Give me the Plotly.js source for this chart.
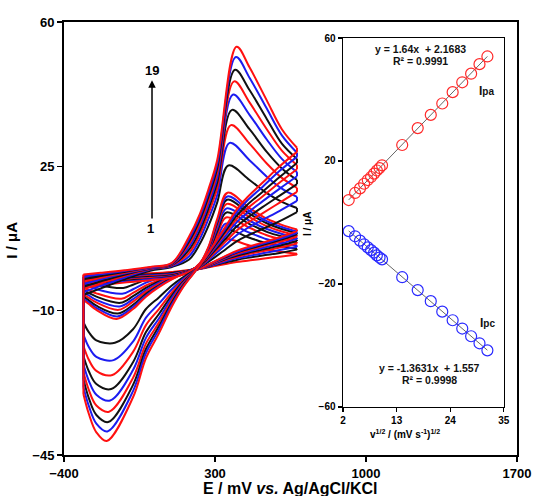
<!DOCTYPE html>
<html>
<head>
<meta charset="utf-8">
<script src="https://cdn.plot.ly/plotly-3.0.1.min.js"></script>
<style>html,body{margin:0;padding:0;background:#fff}</style>
</head>
<body>
<div id="chart" style="width:535px;height:496px"></div>
<script>
// Cyclic voltammograms at 19 scan rates (10–100 and 200–1000 mV/s)
const scanNumbers = [1,2,3,4,5,6,7,8,9,10,11,12,13,14,15,16,17,18,19];
const sqrtScanRate = [3.16,4.47,5.48,6.32,7.07,7.75,8.37,8.94,9.49,10.00,14.14,17.32,20.00,22.36,24.49,26.46,28.28,30.00,31.62];

// peak currents (uA) and peak potentials (mV)
const anodicPeakCurrent  = [7.3,9.6,11.1,12.6,13.8,14.8,15.9,16.9,17.7,18.6,25.2,30.7,35.0,38.7,42.4,45.6,48.4,51.5,54.0];
const cathodicPeakCurrent = [-2.8,-4.5,-5.9,-7.1,-8.1,-9.0,-9.8,-10.7,-11.4,-12.0,-17.8,-22.0,-25.6,-29.0,-31.8,-34.5,-37.0,-39.3,-41.6];
const anodicPeakPotential  = [345,347,349,351,353,354,355,356,357,358,362,368,374,379,384,389,393,397,400];
const cathodicPeakPotential = [-120,-125,-130,-134,-138,-142,-146,-150,-153,-156,-164,-170,-176,-181,-186,-191,-195,-199,-202];

// linear fits shown in the inset
const anodicFit = {slope: 1.64, intercept: 2.1683, r2: '0.9991'};
const cathodicFit = {slope: -1.3631, intercept: 1.557, r2: '0.9998'};

// potentials sampled along the forward (anodic) and reverse (cathodic) sweeps
const forwardPotentialBefore = [-310,-230,-120,0,100,180,230,270,310];
const forwardPotentialAfter = [460,540,610,680];
const reversePotentialBefore = [680,600,520,450,400,350,300,250,200,150,100,40,-20,-80];
const reversePotentialAfter = [-250,-285,-310];

const forwardCurrentBefore = [
  [-1.4,-1.3,-1.1,-0.9,-0.7,-0.2,0.8,2.5,5.0],
  [-1.8,-1.6,-1.4,-1.2,-0.9,-0.3,0.9,3.0,6.3],
  [-2.2,-2.0,-1.7,-1.4,-1.1,-0.3,1.0,3.5,7.3],
  [-2.6,-2.3,-2.0,-1.6,-1.3,-0.4,1.1,3.9,8.3],
  [-3.0,-2.6,-2.2,-1.8,-1.4,-0.4,1.2,4.3,9.2],
  [-3.3,-2.9,-2.4,-2.0,-1.6,-0.5,1.3,4.6,9.9],
  [-3.6,-3.2,-2.6,-2.1,-1.7,-0.5,1.3,4.9,10.6],
  [-3.9,-3.4,-2.8,-2.3,-1.8,-0.6,1.4,5.1,11.2],
  [-4.2,-3.7,-3.0,-2.4,-1.9,-0.6,1.4,5.3,11.7],
  [-4.5,-3.9,-3.2,-2.6,-2.0,-0.6,1.5,5.5,12.2],
  [-6.2,-4.6,-2.4,-0.3,0.6,2.4,6.2,10.6,16.2],
  [-5.5,-4.0,-2.0,0.0,0.8,3.2,7.4,12.3,18.0],
  [-4.8,-3.4,-1.6,0.1,1.0,4.0,8.5,13.6,19.6],
  [-4.2,-2.9,-1.3,0.2,1.1,4.8,9.5,14.8,21.0],
  [-3.6,-2.4,-1.0,0.3,1.2,5.5,10.4,15.8,22.2],
  [-3.0,-2.0,-0.8,0.4,1.3,6.2,11.2,16.8,23.4],
  [-2.4,-1.6,-0.6,0.5,1.4,6.8,12.0,17.7,24.5],
  [-1.8,-1.2,-0.4,0.5,1.5,7.4,12.8,18.6,25.5],
  [-1.2,-0.8,-0.2,0.6,1.6,8.0,13.5,19.5,26.5]
];
const forwardCurrentAfter = [
  [5.8,4.8,4.2,3.8],
  [7.7,6.3,5.6,5.0],
  [8.9,7.3,6.4,5.8],
  [10.1,8.3,7.3,6.6],
  [11.0,9.1,8.0,7.2],
  [11.8,9.8,8.6,7.7],
  [12.7,10.5,9.2,8.3],
  [13.5,11.2,9.8,8.8],
  [14.2,11.7,10.3,9.2],
  [14.9,12.3,10.8,9.7],
  [21.7,18.5,16.4,14.9],
  [26.5,22.5,19.6,17.6],
  [30.5,25.7,22.2,19.8],
  [34.0,28.5,24.5,21.7],
  [37.5,31.5,26.8,23.6],
  [40.5,34.0,28.8,25.3],
  [43.5,36.5,30.5,26.8],
  [46.5,39.0,32.5,28.3],
  [49.0,41.0,34.0,29.5]
];
const reverseCurrentBefore = [
  [3.6,3.1,2.6,2.1,1.8,1.3,0.8,0.3,-0.1,-0.3,-0.6,-1.0,-1.6,-2.4],
  [4.8,4.0,3.4,2.8,2.3,1.7,1.1,0.4,-0.1,-0.5,-0.9,-1.6,-2.5,-3.7],
  [5.5,4.7,3.9,3.2,2.7,2.0,1.2,0.4,-0.2,-0.6,-1.2,-2.1,-3.2,-4.8],
  [6.3,5.3,4.4,3.7,3.0,2.3,1.4,0.5,-0.2,-0.7,-1.4,-2.6,-3.9,-5.7],
  [6.9,5.8,4.8,4.0,3.3,2.5,1.5,0.6,-0.2,-0.8,-1.6,-2.9,-4.5,-6.5],
  [7.4,6.2,5.2,4.3,3.6,2.7,1.6,0.6,-0.3,-0.9,-1.8,-3.2,-5.0,-7.2],
  [8.0,6.7,5.6,4.6,3.8,2.9,1.7,0.6,-0.3,-1.0,-2.0,-3.5,-5.4,-7.8],
  [8.5,7.1,5.9,4.9,4.1,3.0,1.9,0.7,-0.3,-1.1,-2.1,-3.9,-5.9,-8.6],
  [8.9,7.4,6.2,5.1,4.2,3.2,1.9,0.7,-0.3,-1.1,-2.3,-4.1,-6.3,-9.1],
  [9.3,7.8,6.5,5.4,4.5,3.3,2.0,0.7,-0.4,-1.2,-2.4,-4.3,-6.6,-9.6],
  [13.9,11.7,9.8,8.2,6.8,4.9,3.0,1.2,-0.4,-2.0,-3.9,-6.8,-9.6,-14.5],
  [16.6,14.2,12.0,10.0,8.3,6.0,3.7,1.4,-0.5,-2.4,-4.8,-8.3,-11.7,-17.5],
  [18.8,16.2,13.6,11.3,9.4,6.8,4.2,1.6,-0.6,-2.8,-5.6,-9.6,-13.5,-20.0],
  [20.7,17.9,15.1,12.5,10.4,7.5,4.7,1.8,-0.7,-3.1,-6.3,-10.8,-15.2,-22.5],
  [22.6,19.6,16.5,13.7,11.4,8.2,5.1,2.0,-0.8,-3.4,-6.9,-11.9,-16.6,-24.4],
  [24.3,21.1,17.7,14.8,12.2,8.9,5.5,2.1,-0.8,-3.7,-7.5,-12.9,-18.0,-26.3],
  [25.8,22.4,18.8,15.7,13.0,9.4,5.8,2.2,-0.9,-4.0,-8.0,-13.8,-19.3,-28.0],
  [27.3,23.9,20.0,16.7,13.8,10.0,6.2,2.4,-0.9,-4.3,-8.5,-14.6,-20.3,-29.5],
  [28.5,25.0,21.0,17.5,14.5,10.5,6.5,2.5,-1.0,-4.5,-9.0,-15.5,-21.5,-31.0]
];
const reverseCurrentAfter = [
  [-2.3,-2.0,-1.8],
  [-3.7,-3.2,-2.8],
  [-4.8,-4.1,-3.7],
  [-5.8,-5.0,-4.4],
  [-6.6,-5.7,-5.0],
  [-7.4,-6.3,-5.6],
  [-8.0,-6.9,-6.1],
  [-8.8,-7.5,-6.6],
  [-9.3,-8.0,-7.1],
  [-9.8,-8.4,-7.4],
  [-17.2,-15.2,-12.8],
  [-21.2,-18.8,-15.8],
  [-24.6,-21.9,-18.5],
  [-27.8,-24.7,-21.0],
  [-30.4,-27.0,-23.0],
  [-33.0,-29.2,-24.9],
  [-35.3,-31.2,-26.6],
  [-37.4,-33.1,-28.5],
  [-39.5,-35.0,-30.2]
];

const cycleColors = ['#ff1010', '#111111', '#1c1cf0'];
const FONT = 'Liberation Sans, Arial, sans-serif';

const traces = [];
scanNumbers.forEach((n, i) => {
  const color = cycleColors[(n - 1) % 3];
  const fx = [...forwardPotentialBefore, anodicPeakPotential[i], ...forwardPotentialAfter];
  const fy = [...forwardCurrentBefore[i], anodicPeakCurrent[i], ...forwardCurrentAfter[i]];
  const rx = [...reversePotentialBefore, cathodicPeakPotential[i], ...reversePotentialAfter];
  const ry = [...reverseCurrentBefore[i], cathodicPeakCurrent[i], ...reverseCurrentAfter[i]];
  const common = {type: 'scatter', mode: 'lines', xaxis: 'x', yaxis: 'y', hoverinfo: 'skip', showlegend: false};
  traces.push(Object.assign({x: fx, y: fy, line: {color, width: 2, shape: 'spline', smoothing: 1}}, common));
  traces.push(Object.assign({x: rx, y: ry, line: {color, width: 2, shape: 'spline', smoothing: 1}}, common));
  // switching-potential segments at both ends of the sweep
  traces.push(Object.assign({
    x: [fx[fx.length - 1], rx[0], null, rx[rx.length - 1], fx[0]],
    y: [fy[fy.length - 1], ry[0], null, ry[ry.length - 1], fy[0]],
    line: {color, width: 2}
  }, common));
});

// inset: peak current vs square root of scan rate
const xFit = [sqrtScanRate[0], sqrtScanRate[sqrtScanRate.length - 1]];
traces.push({type: 'scatter', mode: 'lines', xaxis: 'x2', yaxis: 'y2', showlegend: false, hoverinfo: 'skip',
  x: xFit, y: xFit.map(v => anodicFit.slope * v + anodicFit.intercept), line: {color: '#666', width: 1}});
traces.push({type: 'scatter', mode: 'lines', xaxis: 'x2', yaxis: 'y2', showlegend: false, hoverinfo: 'skip',
  x: xFit, y: xFit.map(v => cathodicFit.slope * v + cathodicFit.intercept), line: {color: '#666', width: 1}});
traces.push({type: 'scatter', mode: 'markers', xaxis: 'x2', yaxis: 'y2', showlegend: false,
  x: sqrtScanRate, y: anodicPeakCurrent,
  marker: {symbol: 'circle-open', size: 11, color: '#ff2a2a', line: {width: 1.2}}});
traces.push({type: 'scatter', mode: 'markers', xaxis: 'x2', yaxis: 'y2', showlegend: false,
  x: sqrtScanRate, y: cathodicPeakCurrent,
  marker: {symbol: 'circle-open', size: 11, color: '#2a2aff', line: {width: 1.2}}});

const boldFont = (size, color) => ({family: FONT, size, color: color || '#000', weight: 700});

const layout = {
  width: 535, height: 496,
  margin: {l: 64, r: 18, t: 22, b: 41},
  paper_bgcolor: '#fff', plot_bgcolor: '#fff',
  showlegend: false,
  xaxis: {
    domain: [0, 1], range: [-400, 1700], tickvals: [-400, 300, 1000, 1700],
    ticks: 'outside', ticklen: 5, tickwidth: 1.5, tickcolor: '#000',
    showline: true, linecolor: '#000', linewidth: 2, mirror: true,
    showgrid: false, zeroline: false, tickfont: boldFont(13)
  },
  yaxis: {
    domain: [0, 1], range: [-45, 60], tickvals: [-45, -10, 25, 60],
    ticks: 'outside', ticklen: 5, tickwidth: 1.5, tickcolor: '#000',
    showline: true, linecolor: '#000', linewidth: 2, mirror: true,
    showgrid: false, zeroline: false, tickfont: boldFont(13)
  },
  xaxis2: {
    domain: [0.616, 0.971], anchor: 'y2', range: [2, 35], tickvals: [2, 13, 24, 35],
    ticks: 'outside', ticklen: 4, tickwidth: 1.2, tickcolor: '#000',
    showline: true, linecolor: '#000', linewidth: 1.5, mirror: true,
    showgrid: false, zeroline: false, tickfont: boldFont(10)
  },
  yaxis2: {
    domain: [0.111, 0.963], anchor: 'x2', range: [-60, 60], tickvals: [-60, -20, 20, 60],
    ticks: 'outside', ticklen: 4, tickwidth: 1.2, tickcolor: '#000',
    showline: true, linecolor: '#000', linewidth: 1.5, mirror: true,
    showgrid: false, zeroline: false, tickfont: boldFont(10)
  },
  annotations: [
    {xref: 'paper', yref: 'paper', x: 0.501, y: -0.078, xanchor: 'center', yanchor: 'middle', showarrow: false,
     text: 'E / mV <i>vs.</i> Ag/AgCl/KCl', font: boldFont(16)},
    {xref: 'paper', yref: 'paper', x: -0.115, y: 0.497, xanchor: 'center', yanchor: 'middle', showarrow: false, textangle: -90,
     text: 'I / μA', font: boldFont(15)},
    {xref: 'paper', yref: 'paper', x: 0.536, y: 0.533, xanchor: 'center', yanchor: 'middle', showarrow: false, textangle: -90,
     text: 'I / μA', font: boldFont(10)},
    {xref: 'paper', yref: 'paper', x: 0.753, y: 0.049, xanchor: 'center', yanchor: 'middle', showarrow: false,
     text: 'v<sup>1/2</sup> / (mV s<sup>-1</sup>)<sup>1/2</sup>', font: boldFont(10)},
    // scan-order arrow
    {xref: 'x', yref: 'y', axref: 'x', ayref: 'y', x: 8, y: 45.9, ax: 8, ay: 12.0, text: '',
     showarrow: true, arrowhead: 2, arrowsize: 1, arrowwidth: 1.5, arrowcolor: '#000'},
    {xref: 'x', yref: 'y', x: 6, y: 48.2, xanchor: 'center', yanchor: 'middle', showarrow: false, text: '19',
     font: boldFont(13)},
    {xref: 'x', yref: 'y', x: 2, y: 10.0, xanchor: 'center', yanchor: 'middle', showarrow: false, text: '1',
     font: boldFont(13)},
    // inset fit labels
    {xref: 'x2', yref: 'y2', x: 17.8, y: 56.4, xanchor: 'center', yanchor: 'middle', showarrow: false,
     text: 'y = ' + anodicFit.slope + 'x  + ' + anodicFit.intercept, font: boldFont(10.5, '#111')},
    {xref: 'x2', yref: 'y2', x: 17.8, y: 52.5, xanchor: 'center', yanchor: 'middle', showarrow: false,
     text: 'R² = ' + anodicFit.r2, font: boldFont(10.5, '#111')},
    {xref: 'x2', yref: 'y2', x: 31.5, y: 42.8, xanchor: 'center', yanchor: 'middle', showarrow: false,
     text: 'I<span style="font-size:10px">pa</span>', font: boldFont(12, '#111')},
    {xref: 'x2', yref: 'y2', x: 31.7, y: -32.7, xanchor: 'center', yanchor: 'middle', showarrow: false,
     text: 'I<span style="font-size:10px">pc</span>', font: boldFont(12, '#111')},
    {xref: 'x2', yref: 'y2', x: 19.8, y: -47.3, xanchor: 'center', yanchor: 'middle', showarrow: false,
     text: 'y = ' + cathodicFit.slope + 'x  + ' + cathodicFit.intercept, font: boldFont(10.5, '#111')},
    {xref: 'x2', yref: 'y2', x: 19.8, y: -51.2, xanchor: 'center', yanchor: 'middle', showarrow: false,
     text: 'R² = ' + cathodicFit.r2, font: boldFont(10.5, '#111')}
  ]
};

Plotly.newPlot('chart', traces, layout, {displayModeBar: false, staticPlot: true});
</script>
</body>
</html>
